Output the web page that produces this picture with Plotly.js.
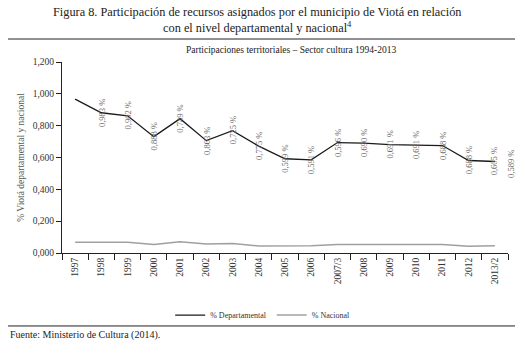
<!DOCTYPE html>
<html>
<head>
<meta charset="utf-8">
<script src="https://cdn.plot.ly/plotly-3.0.1.min.js"></script>
<style>html,body{margin:0;padding:0;background:#fff;}#chart{width:524px;height:349px;}</style>
</head>
<body>
<div id="chart"></div>
<script>
const categories = ["1997","1998","1999","2000","2001","2002","2003","2004","2005","2006","2007/3","2008","2009","2010","2011","2012","2013/2"];
const departamental = [0.967, 0.881, 0.862, 0.731, 0.844, 0.706, 0.769, 0.671, 0.592, 0.585, 0.694, 0.690, 0.681, 0.679, 0.675, 0.581, 0.575];
const nacional = [0.068, 0.068, 0.068, 0.054, 0.071, 0.056, 0.060, 0.044, 0.045, 0.045, 0.054, 0.054, 0.054, 0.054, 0.054, 0.042, 0.046];
const dataLabels = ["0,983 %","0,902 %","0,888 %","0,749 %","0,863 %","0,725 %","0,775 %","0,599 %","0,591 %","0,596 %","0,690 %","0,691 %","0,691 %","0,688 %","0,688 %","0,605 %","0,589 %"];
const yTicks = [0, 0.2, 0.4, 0.6, 0.8, 1.0, 1.2];

const serif = "'Liberation Serif', 'Times New Roman', serif";

const traces = [
  {x: categories, y: departamental, type: "scatter", mode: "lines", name: "% Departamental",
   line: {color: "#1a1a1a", width: 1.3}},
  {x: categories, y: nacional, type: "scatter", mode: "lines", name: "% Nacional",
   line: {color: "#a0a0a0", width: 1.5}}
];

// Data labels: as in the source, each label sits one category to the right of its value
const last = departamental.length - 1;
const labelFont = {family: serif, size: 8.5, color: "#6a6a6a"};
const annotations = dataLabels.map((t, i) => {
  const inside = i + 1 <= last;
  return {
    x: inside ? i + 1 : 1.007,
    xref: inside ? "x" : "paper",
    y: inside ? departamental[i + 1] : departamental[last] - 0.015,
    yref: "y", text: t, showarrow: false, textangle: -90,
    xanchor: "center", yanchor: "middle", font: labelFont
  };
});

annotations.push(
  {text: "Figura 8. Participación de recursos asignados por el municipio de Viotá en relación<br>con el nivel departamental y nacional<sup>4</sup>",
   xref: "paper", yref: "paper", x: 0.437, y: 1.31, showarrow: false, xanchor: "center", yanchor: "top",
   font: {family: serif, size: 12.3, color: "#222"}},
  {text: "Participaciones territoriales – Sector cultura 1994-2013", xref: "paper", yref: "paper",
   x: 0.515, y: 1.063, showarrow: false, xanchor: "center", yanchor: "middle",
   font: {family: serif, size: 9.5, color: "#222"}},
  {text: "Fuente: Ministerio de Cultura (2014).", xref: "paper", yref: "paper",
   x: -0.121, y: -0.43, showarrow: false, xanchor: "left", yanchor: "middle",
   font: {family: serif, size: 10, color: "#222"}}
);

const layout = {
  width: 524, height: 349,
  margin: {l: 62, r: 16, t: 62, b: 96},
  paper_bgcolor: "#fff", plot_bgcolor: "#fff",
  separators: ",.",
  xaxis: {
    type: "category", tickvals: categories, ticktext: categories,
    range: [-0.5, categories.length - 0.5],
    showline: true, linecolor: "#222", linewidth: 1,
    ticks: "outside", tickson: "boundaries", ticklen: 6, tickcolor: "#222",
    tickangle: -90, showgrid: false, zeroline: false,
    tickfont: {family: serif, size: 9.5, color: "#333"}
  },
  yaxis: {
    range: [0, 1.2], tickvals: yTicks, tickformat: ".3f", ticksuffix: " %",
    showline: true, linecolor: "#222", linewidth: 1,
    ticks: "outside", ticklen: 5, tickcolor: "#222",
    showgrid: false, zeroline: false,
    tickfont: {family: serif, size: 9.5, color: "#333"},
    title: {text: "% Viotá departamental y nacional", standoff: 6,
            font: {family: serif, size: 9.5, color: "#555"}}
  },
  showlegend: true,
  legend: {orientation: "h", x: 0.45, xanchor: "center", y: -0.325, yanchor: "middle",
           font: {family: serif, size: 8, color: "#333"}, itemwidth: 30, bgcolor: "rgba(0,0,0,0)"},
  shapes: [
    {type: "line", xref: "paper", yref: "paper", x0: -0.121, x1: 1.0157, y0: 1.1204, y1: 1.1204,
     line: {color: "#222", width: 1}},
    {type: "line", xref: "paper", yref: "paper", x0: -0.121, x1: 1.0157, y0: -0.382, y1: -0.382,
     line: {color: "#222", width: 1}}
  ],
  annotations: annotations
};

Plotly.newPlot("chart", traces, layout, {displayModeBar: false, staticPlot: true});
</script>
</body>
</html>
